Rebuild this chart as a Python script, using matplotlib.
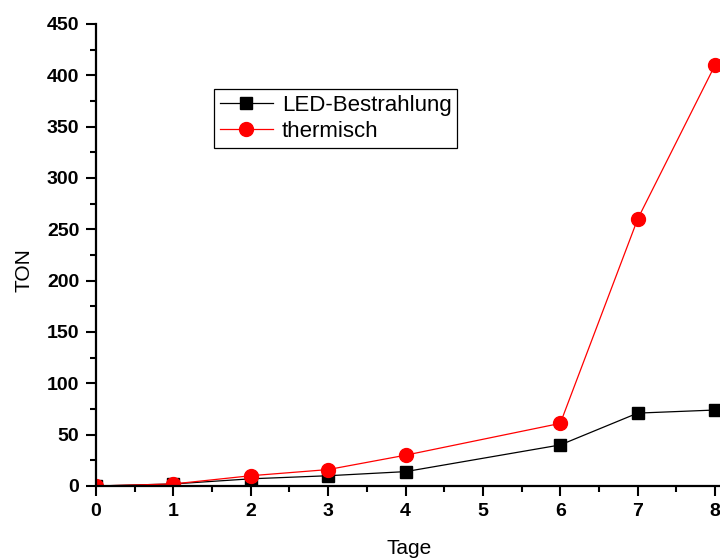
import matplotlib
matplotlib.use("Agg")
import matplotlib.pyplot as plt
from matplotlib.ticker import MultipleLocator

plt.rcParams['font.family'] = ['Liberation Sans', 'DejaVu Sans']

days = [0, 1, 2, 3, 4, 6, 7, 8]
led_ton = [0, 2, 7, 10, 14, 40, 71, 74]
thermal_ton = [0, 2, 10, 16, 30, 61, 260, 410]
series_labels = ["LED-Bestrahlung", "thermisch"]
x_label = "Tage"
y_label = "TON"

fig = plt.figure(figsize=(7.2, 5.58), dpi=100)
ax = fig.add_axes([96 / 720, 72 / 558, 650 / 720, 462 / 558])

ax.plot(days, led_ton, color="black", lw=0.9, marker="s", ms=8,
        label=series_labels[0])
ax.plot(days, thermal_ton, color="red", lw=0.9, marker="o", ms=10,
        label=series_labels[1])

ax.set_xlim(0, 8.4)
ax.set_ylim(0, 450)
ax.xaxis.set_major_locator(MultipleLocator(1))
ax.xaxis.set_minor_locator(MultipleLocator(0.5))
ax.yaxis.set_major_locator(MultipleLocator(50))
ax.yaxis.set_minor_locator(MultipleLocator(25))

for side in ("top", "right"):
    ax.spines[side].set_visible(False)
for side in ("left", "bottom"):
    ax.spines[side].set_linewidth(1.6)

ax.tick_params(which="major", direction="out", length=7, width=1.5,
               labelsize=14, pad=5)
ax.tick_params(which="minor", direction="out", length=4, width=1.5)
for lbl in ax.get_xticklabels() + ax.get_yticklabels():
    lbl.set_fontweight("bold")

fig.text(409 / 720, 1 - 548 / 558, x_label, ha="center", va="center",
         fontsize=15)
fig.text(24 / 720, 1 - 270 / 558, y_label, ha="center", va="center",
         fontsize=15, rotation=90)

leg = ax.legend(loc="upper left", bbox_to_anchor=(214 / 720, 1 - 89 / 558),
                bbox_transform=fig.transFigure, fontsize=16, frameon=True,
                fancybox=False, framealpha=1, edgecolor="black",
                handlelength=2.4, handletextpad=0.4, borderpad=0.25,
                labelspacing=0.25, borderaxespad=0)
leg.get_frame().set_linewidth(0.9)

fig.savefig("out.png", dpi=100)
